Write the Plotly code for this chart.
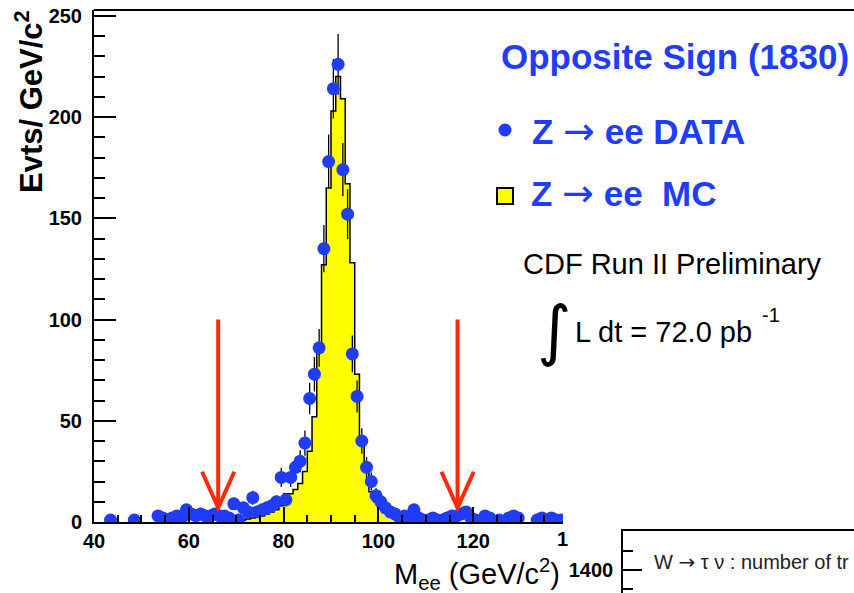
import numpy as np
import plotly.graph_objects as go

# ---- Z -> ee opposite-sign invariant mass, 1 GeV bins ----
data_mass = [43.5, 48.5, 53.5, 54.5, 55.5, 56.5, 57.5, 58.5, 59.5, 60.5, 61.5, 62.5,
             63.5, 64.5, 65.5, 66.5, 67.5, 68.5, 69.5, 70.5, 71.5, 72.5, 73.5, 74.5,
             75.5, 76.5, 77.5, 78.5, 79.5, 80.5, 81.5, 82.5, 83.5, 84.5, 85.5, 86.5,
             87.5, 88.5, 89.5, 90.5, 91.5, 92.5, 93.5, 94.5, 95.5, 96.5, 97.5, 98.5,
             99.5, 100.5, 101.5, 102.5, 103.5, 104.5, 105.5, 106.5, 107.5, 108.5,
             109.5, 110.5, 111.5, 112.5, 113.5, 114.5, 115.5, 116.5, 117.5, 118.5,
             119.5, 120.5, 122.5, 123.5, 125.5, 127.5, 128.5, 129.5, 133.5, 134.5,
             135.5, 136.5, 137.5, 138.5]
data_counts = [1, 1, 3, 2, 1, 2, 3, 2, 6, 4, 3, 4,
               3, 3, 4, 3, 3, 2, 9, 1, 7, 5, 12, 5,
               6, 7, 8, 10, 22, 11, 22, 27, 30, 39, 61, 73,
               86, 135, 178, 214, 226, 174, 152, 83, 62, 40, 27, 20,
               13, 10, 7, 5, 4, 2, 3, 2, 6, 2,
               1, 1, 2, 1, 1, 2, 3, 3, 4, 5,
               2, 1, 3, 2, 1, 2, 3, 2, 1, 2,
               1, 2, 1, 1]

mc_mass = [70.5, 71.5, 72.5, 73.5, 74.5, 75.5, 76.5, 77.5, 78.5, 79.5, 80.5, 81.5,
           82.5, 83.5, 84.5, 85.5, 86.5, 87.5, 88.5, 89.5, 90.5, 91.5, 92.5, 93.5,
           94.5, 95.5, 96.5, 97.5, 98.5, 99.5, 100.5, 101.5, 102.5, 103.5, 104.5, 105.5]
mc_counts = [0.5, 1, 1.5, 2, 2.5, 3, 4, 5, 6, 8, 14, 14,
             16, 19, 25, 35, 52, 84, 127, 165, 203, 220, 209, 167,
             128, 73, 42, 25, 15, 10, 7, 5, 3, 2, 1, 0.5]

mass_window = [66.2, 116.7]          # selection cut positions (GeV/c^2)
x_ticks = [40, 60, 80, 100, 120]
y_ticks = [0, 50, 100, 150, 200, 250]

W, H = 854, 593
ML, MT = 94, 10
PW, PH = W - ML, H - MT


def px(x):
    return (x - ML) / PW


def py(y):
    return (H - y) / PH


BLUE = "#1f3cff"
RED = "#ff2a0a"
FONT = "Liberation Sans"

# step outline for the MC histogram
mc_x, mc_y = [mc_mass[0] - 0.5], [0]
for c, v in zip(mc_mass, mc_counts):
    mc_x += [c - 0.5, c + 0.5]
    mc_y += [v, v]
mc_x.append(mc_mass[-1] + 0.5)
mc_y.append(0)

fig = go.Figure()
fig.add_trace(go.Scatter(
    x=mc_x, y=mc_y, mode="lines", fill="tozeroy", fillcolor="#ffff00",
    line=dict(color="black", width=1.5), hoverinfo="skip", showlegend=False))
fig.add_trace(go.Scatter(
    x=data_mass, y=data_counts, mode="markers",
    marker=dict(color=BLUE, size=13, line=dict(width=0)),
    error_y=dict(type="data", array=np.sqrt(data_counts), color="black",
                 thickness=1.3, width=0),
    showlegend=False))
# the neighbouring W -> tau nu panel (only its corner is in view)
fig.add_trace(go.Scatter(x=[None], y=[None], xaxis="x2", yaxis="y2",
                         mode="lines", showlegend=False, hoverinfo="skip"))

x_right = 40 + (563 - ML) / 4.74
tick_font = dict(family=FONT, size=20, weight="bold", color="black")
fig.update_layout(
    template="none",
    width=W, height=H, margin=dict(l=ML, r=0, t=MT, b=0, pad=0, autoexpand=False),
    paper_bgcolor="white", plot_bgcolor="rgba(0,0,0,0)", showlegend=False,
    font=dict(family=FONT, color="black"),
    xaxis=dict(domain=[0, px(563)], range=[40, x_right], tickvals=x_ticks,
               ticks="inside", ticklen=15, tickwidth=2, tickcolor="black",
               minor=dict(dtick=5, ticks="inside", ticklen=7, tickwidth=1.5,
                          tickcolor="black"),
               showline=True, linewidth=2, linecolor="black", showgrid=False,
               zeroline=False, anchor="y", automargin=False, tickfont=tick_font),
    yaxis=dict(domain=[py(522), 1], range=[0, (522 - MT) / 2.025], tickvals=y_ticks,
               ticks="inside", ticklen=22, tickwidth=2, tickcolor="black",
               minor=dict(dtick=10, ticks="inside", ticklen=11, tickwidth=2,
                          tickcolor="black"),
               showline=True, linewidth=2, linecolor="black", showgrid=False,
               zeroline=False, anchor="x", ticklabelstandoff=6, automargin=False,
               tickfont=tick_font),
    xaxis2=dict(domain=[px(623), 1], range=[0, 1], anchor="y2", side="top",
                showline=True, linewidth=1.5, linecolor="black", ticks="",
                showticklabels=False, showgrid=False, zeroline=False,
                automargin=False),
    yaxis2=dict(domain=[0, py(531)], range=[1340, 1502], anchor="x2",
                tickvals=[1400], ticks="inside", ticklen=19, tickwidth=1.5,
                tickcolor="black",
                minor=dict(dtick=50, ticks="inside", ticklen=10, tickwidth=1.5,
                           tickcolor="black"),
                showline=True, linewidth=1.5, linecolor="black", showgrid=False,
                zeroline=False, ticklabelstandoff=4, automargin=False,
                tickfont=tick_font),
)

shapes = [
    dict(type="line", xref="paper", yref="paper", x0=0, x1=1, y0=1, y1=1,
         line=dict(color="black", width=2)),
    dict(type="circle", xref="paper", yref="paper",
         x0=px(498.5), x1=px(511.5), y0=py(136.5), y1=py(123.5),
         fillcolor=BLUE, line=dict(width=0)),
    dict(type="rect", xref="paper", yref="paper",
         x0=px(497), x1=px(513), y0=py(204), y1=py(188),
         fillcolor="#ffff00", line=dict(color="black", width=2)),
]
for c in mass_window:
    shapes.append(dict(type="line", xref="x", yref="y", x0=c, x1=c, y0=100, y1=7,
                       line=dict(color=RED, width=4)))
    shapes.append(dict(type="path", xref="x", yref="y",
                       path=f"M {c - 3.4},{24.8} L {c},{7} L {c + 3.4},{24.8}",
                       line=dict(color=RED, width=4)))
fig.update_layout(shapes=shapes)


def thin_arrow(size):
    return (f'<span style="font-family:DejaVu Sans;font-weight:normal;'
            f'font-size:{size}px">→</span>')


def note(text, x, y, size, color="black", xanchor="center", weight="normal",
         family=FONT, angle=0, yanchor="middle"):
    fig.add_annotation(text=text, x=px(x), y=py(y), xref="paper", yref="paper",
                       xanchor=xanchor, yanchor=yanchor, showarrow=False,
                       textangle=angle,
                       font=dict(family=family, size=size, color=color, weight=weight))


note("Opposite Sign (1830)", 675, 57, 35, BLUE, weight="bold")
note(f"Z {thin_arrow(38)} ee DATA", 530, 131, 35, BLUE, xanchor="left", weight="bold")
note(f"Z {thin_arrow(38)} ee&nbsp;&nbsp;MC", 529, 193, 35, BLUE, xanchor="left",
     weight="bold")
note("CDF Run II Preliminary", 672, 264, 29)
note("∫", 554, 330, 66, family="DejaVu Sans")
note("L dt = 72.0 pb", 573, 332, 29, xanchor="left")
note("-1", 760, 315, 20, xanchor="left")
note("Evts/ GeV/c<sup>2</sup>", 29, 102, 31, weight="bold", angle=-90)
note("M<sub>ee</sub> (GeV/c<sup>2</sup>)", 562, 574, 29, xanchor="right")
note("1", 555, 539, 20, xanchor="left", weight="bold")
note(f"W {thin_arrow(20)} τ ν : number of tr", 652, 562, 20, "#222222",
     xanchor="left")

fig.write_html("out.html")
